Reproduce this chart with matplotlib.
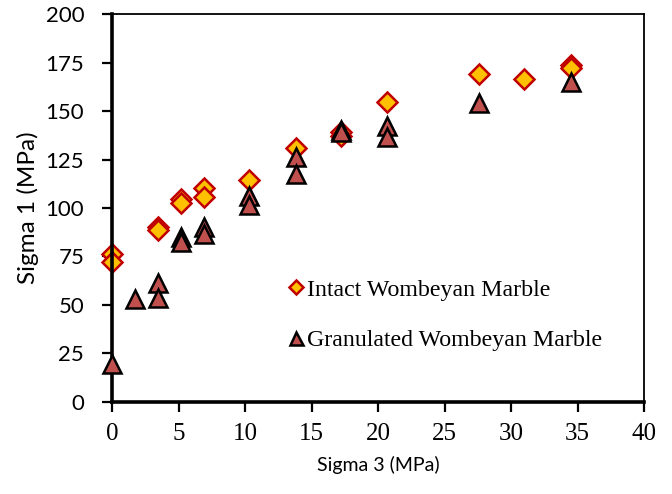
import matplotlib
matplotlib.use("Agg")
import matplotlib.pyplot as plt

# Data
intact_s3 = [0, 0, 3.45, 3.45, 5.17, 5.17, 6.9, 6.9, 10.3, 13.8, 17.2, 17.2, 20.7, 27.6, 31.0, 34.5, 34.5]
intact_s1 = [76.0, 72.0, 90.0, 88.5, 104.5, 102.5, 110.5, 105.8, 114.5, 131.0, 139.0, 137.2, 154.8, 169.0, 166.8, 174.0, 172.5]

gran_s3 = [0, 1.72, 3.45, 3.45, 5.17, 5.17, 6.9, 6.9, 10.3, 10.3, 13.8, 13.8, 17.2, 17.2, 20.7, 20.7, 27.6, 34.5]
gran_s1 = [19.7, 53.2, 61.5, 53.5, 85.0, 82.5, 90.3, 86.7, 106.3, 101.3, 126.3, 117.3, 140.3, 139.0, 142.5, 136.5, 154.2, 164.8]

x_ticks = [0, 5, 10, 15, 20, 25, 30, 35, 40]
y_ticks = [0, 25, 50, 75, 100, 125, 150, 175, 200]

fig = plt.figure(figsize=(6.72, 4.94), dpi=100)
ax = fig.add_axes([112/672, 1-401.7/494, (644-112)/672, (401.7-14.3)/494])

ax.plot(gran_s3, gran_s1, linestyle='none', marker='^', markersize=13,
        markerfacecolor='#C0504D', markeredgecolor='black', markeredgewidth=1.8,
        label='Granulated Wombeyan Marble', zorder=3, clip_on=False)
ax.plot(intact_s3, intact_s1, linestyle='none', marker='D', markersize=9.8,
        markerfacecolor='#FFC000', markeredgecolor='#C00000', markeredgewidth=1.8,
        label='Intact Wombeyan Marble', zorder=2, clip_on=False)

ax.set_xlim(0, 40)
ax.set_ylim(0, 200)
ax.set_xticks(x_ticks)
ax.set_yticks(y_ticks)
ax.set_xticklabels([str(v) for v in x_ticks], fontfamily='Liberation Serif', fontsize=18)
ax.set_yticklabels([str(v) for v in y_ticks], fontfamily='Lato', fontsize=16)
ax.tick_params(axis='both', direction='out', length=7, width=1.6, color='black')
ax.tick_params(axis='x', pad=8)
ax.tick_params(axis='y', pad=13)

for s in ['left', 'bottom']:
    ax.spines[s].set_linewidth(2.6)
for s in ['top', 'right']:
    ax.spines[s].set_linewidth(1.3)

ax.set_xlabel('Sigma 3 (MPa)', fontfamily='Lato', fontsize=14, labelpad=8)
ax.set_ylabel('Sigma 1 (MPa)', fontfamily='Lato', fontsize=17.5, labelpad=5)

h, l = ax.get_legend_handles_labels()
leg = ax.legend([h[1], h[0]], [l[1], l[0]], loc='center left',
                bbox_to_anchor=(0.328, 0.224), frameon=False,
                prop={'family': 'Liberation Serif', 'size': 17.2},
                markerscale=0.72, handlelength=0.8, handletextpad=0.05,
                labelspacing=1.2, borderaxespad=0, borderpad=0)

fig.savefig('out.png', dpi=100)
